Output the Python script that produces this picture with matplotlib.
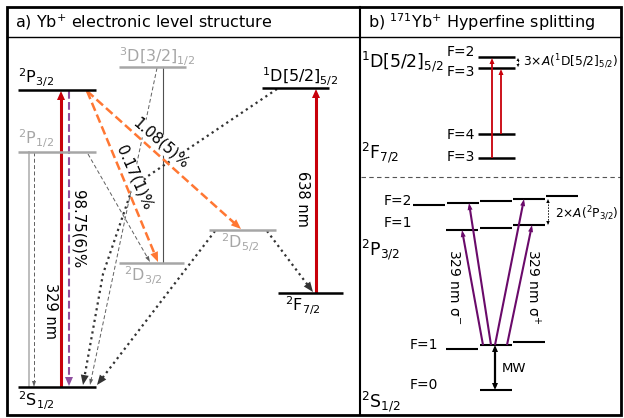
import numpy as np
import matplotlib.pyplot as plt
from matplotlib.patches import Polygon, Rectangle

plt.rcParams['font.family'] = ['DejaVu Sans']
plt.rcParams['mathtext.default'] = 'regular'

# ---- panel a: electronic levels  name -> (x_left, x_right, y)   (pixel units)
levels_a = {
    'P32': (18, 96, 90),
    'P12': (18, 96, 152),
    'S12': (18, 96, 387),
    '3D32': (119, 186, 67),
    'D32': (119, 184, 263),
    'D52': (209, 276, 230),
    '1D52': (262, 329, 88),
    'F72': (278, 343, 293),
}
grey_levels = ['P12', '3D32', 'D32', 'D52']
labels_a = {
    'P32': r'$^{2}$P$_{3/2}$',
    'P12': r'$^{2}$P$_{1/2}$',
    'S12': r'$^{2}$S$_{1/2}$',
    '3D32': r'$^{3}$D[3/2]$_{1/2}$',
    'D32': r'$^{2}$D$_{3/2}$',
    'D52': r'$^{2}$D$_{5/2}$',
    '1D52': r'$^{1}$D[5/2]$_{5/2}$',
    'F72': r'$^{2}$F$_{7/2}$',
}
branching = ['98.75(6)%', '1.08(5)%', '0.17(1)%']
wavelengths = ['329 nm', '638 nm']

# ---- panel b: hyperfine levels
hf_top_F = ['F=2', 'F=3', 'F=4', 'F=3']
hf_top_y = [57, 68, 134, 158]
p32_F2_y = [205, 203, 201, 199, 196]
p32_F1_y = [230, 228, 225]
s12_F1_y = [349, 345, 342]
s12_F0_y = [390]

RED = '#c8000a'
ORANGE = '#ff7733'
PURPD = '#8f4f9f'
PURP = '#6a0a6a'
GREY = '#a6a6a6'
DARK = '#333333'
MID = '#606060'
FS = 11.5

fig = plt.figure(figsize=(6.24, 4.18), dpi=100)
ax = fig.add_axes([0, 0, 1, 1])
ax.set_xlim(0, 624)
ax.set_ylim(418, 0)
ax.axis('off')


def head(p0, p1, color, L, W, z):
    d = np.array(p1, float) - np.array(p0, float)
    u = d / np.hypot(*d)
    n = np.array([-u[1], u[0]])
    tip = np.array(p1, float)
    base = tip - L * u
    ax.add_patch(Polygon([tip, base + W / 2 * n, base - W / 2 * n], closed=True,
                         fc=color, ec='none', zorder=z))
    return tip - 0.5 * L * u


def arrow(p0, p1, color, lw, ls='-', L=9, W=8, z=5, both=False):
    e = head(p0, p1, color, L, W, z)
    s = head(p1, p0, color, L, W, z) if both else p0
    ax.plot([s[0], e[0]], [s[1], e[1]], color=color, lw=lw, ls=ls, zorder=z,
            solid_capstyle='butt')


def path_arrow(pts, color, lw, ls, L=10, W=8, z=3):
    e = head(pts[-2], pts[-1], color, L, W, z)
    xs = [p[0] for p in pts[:-1]] + [e[0]]
    ys = [p[1] for p in pts[:-1]] + [e[1]]
    ax.plot(xs, ys, color=color, lw=lw, ls=ls, zorder=z)


def lab(x, y, s, **kw):
    kw.setdefault('fontsize', FS)
    ax.text(x, y, s, **kw)


# frame
ax.add_patch(Rectangle((7, 7), 614, 408, fill=False, lw=2, ec='black', zorder=10))
ax.plot([7, 621], [37, 37], color='black', lw=1, zorder=10)
ax.plot([360, 360], [7, 415], color='black', lw=1.5, zorder=10)
ax.plot([361, 621], [177, 177], color='#555555', lw=0.8, ls=(0, (4, 3)))
lab(15, 22, r'a) Yb$^{+}$ electronic level structure', va='center')
lab(368, 22, r'b) $^{171}$Yb$^{+}$ Hyperfine splitting', va='center')

# ---------------- panel a
for k, (x0, x1, y) in levels_a.items():
    ax.plot([x0, x1], [y, y], color=GREY if k in grey_levels else 'black',
            lw=1.8, solid_capstyle='butt', zorder=6)
lvl_lab_pos = {'P32': (18, 78), 'P12': (18, 139), 'S12': (18, 401), '3D32': (119, 57),
               'D32': (124, 276), 'D52': (221, 243), '1D52': (262, 77), 'F72': (285, 306)}
for k, (x, y) in lvl_lab_pos.items():
    lab(x, y, labels_a[k], va='center', color=GREY if k in grey_levels else 'black')

L = levels_a
# thin grey transitions
ax.plot([29, 29], [L['P12'][2], L['S12'][2]], color='#bdbdbd', lw=1.4, zorder=2)
arrow((34, L['P12'][2]), (34, L['S12'][2]), MID, 0.7, (0, (4, 2.5)), L=6, W=4, z=2)
arrow((88, 154), (150, L['D32'][2] - 1), MID, 0.7, (0, (4, 2.5)), L=6, W=4, z=2)
arrow((157, L['3D32'][2] + 1), (90, 385), MID, 0.7, (0, (4, 2.5)), L=6, W=4, z=2)
ax.plot([163, 163], [L['3D32'][2], L['D32'][2]], color='#505050', lw=0.8, zorder=2)

# lasers
arrow((61, L['S12'][2]), (61, L['P32'][2] + 1), RED, 2.2, L=9, W=8, z=5)
arrow((316, L['F72'][2]), (316, L['1D52'][2] + 1), RED, 2.2, L=9, W=8, z=5)
arrow((69, L['P32'][2] + 1), (69, L['S12'][2] - 1), PURPD, 1.5, '--', L=9, W=8, z=5)

# orange decays
arrow((87, 91), (158, L['D32'][2] - 1), ORANGE, 1.8, (0, (3.5, 1.6)), L=10, W=8, z=5)
arrow((87, 91), (241, L['D52'][2] - 1), ORANGE, 1.8, (0, (3.5, 1.6)), L=10, W=8, z=5)

# dotted decays
path_arrow([(277, 89), (148, 176), (131, 192), (103, 274), (83, 385)], DARK, 1.6, ':')
path_arrow([(215, 231), (97, 385)], DARK, 1.6, ':')
path_arrow([(267, 231), (313, 292)], DARK, 1.6, ':')

# labels
bb = dict(fc='white', ec='none', pad=0.3)
lab(78, 229, branching[0], rotation=-90, ha='center', va='center', zorder=4, fontsize=10.8)
lab(161, 143, branching[1], rotation=-41, ha='center', va='center', zorder=4,
    rotation_mode='anchor', bbox=bb, fontsize=10.8)
lab(134, 178, branching[2], rotation=-66, ha='center', va='center', zorder=4,
    rotation_mode='anchor', bbox=bb, fontsize=10.8)
lab(50, 311, wavelengths[0], rotation=-90, ha='center', va='center', fontsize=10.5)
lab(302, 199, wavelengths[1], rotation=-90, ha='center', va='center', fontsize=10.5)

# ---------------- panel b top
for y in hf_top_y:
    ax.plot([478, 515], [y, y], color='black', lw=1.8, solid_capstyle='butt')
for f, y in zip(hf_top_F, [52, 72, 135, 157]):
    lab(475, y, f, ha='right', va='center', fontsize=10)
lab(361, 62, r'$^{1}$D[5/2]$_{5/2}$', va='center', fontsize=12.5)
lab(361, 153, r'$^{2}$F$_{7/2}$', va='center', fontsize=12.5)
arrow((492, hf_top_y[3]), (492, hf_top_y[0] + 1), RED, 1.3, L=6, W=5)
arrow((501, hf_top_y[2]), (501, hf_top_y[1] + 1), RED, 1.3, L=6, W=5)
arrow((518, hf_top_y[0] + 1), (518, hf_top_y[1] - 1), 'black', 0.6, (0, (2, 1.5)),
      L=3, W=3, both=True)
lab(523, 62, r'3$\times$$\mathit{A}$($^{1}$D[5/2]$_{5/2}$)', va='center', fontsize=8.8)

# ---------------- panel b bottom
p32_F2_x = [413, 447, 480, 513, 546]
sub_x = [446, 480, 513]
for x, y in zip(p32_F2_x, p32_F2_y):
    ax.plot([x, x + 32], [y, y], color='black', lw=1.5, solid_capstyle='butt')
for x, y in zip(sub_x, p32_F1_y):
    ax.plot([x, x + 32], [y, y], color='black', lw=1.5, solid_capstyle='butt')
for x, y in zip(sub_x, s12_F1_y):
    ax.plot([x, x + 32], [y, y], color='black', lw=1.5, solid_capstyle='butt')
ax.plot([480, 512], [s12_F0_y[0]] * 2, color='black', lw=1.5, solid_capstyle='butt')

lab(412, 201, 'F=2', ha='right', va='center', fontsize=10)
lab(412, 223, 'F=1', ha='right', va='center', fontsize=10)
lab(438, 345, 'F=1', ha='right', va='center', fontsize=10)
lab(438, 385, 'F=0', ha='right', va='center', fontsize=10)
lab(361, 250, r'$^{2}$P$_{3/2}$', va='center', fontsize=12.5)
lab(361, 402, r'$^{2}$S$_{1/2}$', va='center', fontsize=12.5)

arrow((548, p32_F2_y[3]), (548, p32_F1_y[2]), 'black', 0.6, (0, (2, 1.5)),
      L=4, W=3.5, both=True)
lab(555, 214, r'2$\times$$\mathit{A}$($^{2}$P$_{3/2}$)', va='center', fontsize=8.7)

arrow((495, s12_F1_y[1]), (495, s12_F0_y[0]), 'black', 1.6, L=7, W=6, both=True)
lab(502, 369, 'MW', va='center', fontsize=9.5)

arrow((483, s12_F1_y[1]), (462, p32_F1_y[0]), PURP, 1.5, L=7, W=5)
arrow((491, s12_F1_y[1]), (469, p32_F2_y[1]), PURP, 1.5, L=7, W=5)
arrow((495, s12_F1_y[1]), (524, p32_F2_y[3]), PURP, 1.5, L=7, W=5)
arrow((507, s12_F1_y[1]), (532, p32_F1_y[2]), PURP, 1.5, L=7, W=5)
lab(454, 287, r'329 nm $\sigma^{-}$', rotation=-90, ha='center', va='center', fontsize=10)
lab(533, 287, r'329 nm $\sigma^{+}$', rotation=-90, ha='center', va='center', fontsize=10)

fig.savefig('out.png', dpi=100)
